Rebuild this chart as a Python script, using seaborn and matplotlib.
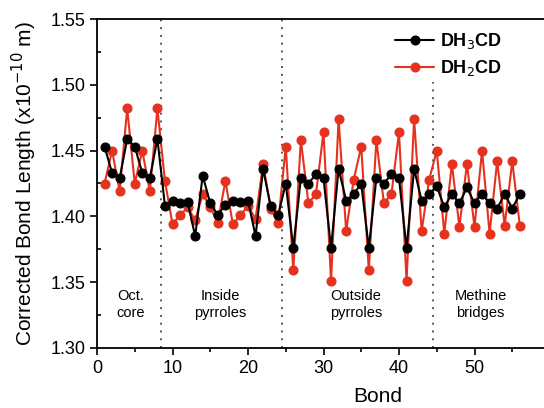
import numpy as np
import pandas as pd
import matplotlib
matplotlib.use('Agg')
import matplotlib.pyplot as plt
from matplotlib.ticker import MultipleLocator, FixedLocator
import seaborn as sns

# bond index and corrected bond lengths (x1e-10 m)
bonds = list(range(1, 57))
dh3cd = [1.453, 1.433, 1.429, 1.459, 1.453, 1.433, 1.429, 1.459,
         1.408, 1.412, 1.410, 1.411, 1.385, 1.431, 1.410, 1.401,
         1.409, 1.412, 1.411, 1.412, 1.385, 1.436, 1.408, 1.401,
         1.425, 1.376, 1.429, 1.425, 1.432, 1.429, 1.376, 1.436,
         1.412, 1.417, 1.425, 1.376, 1.429, 1.425, 1.432, 1.429,
         1.376, 1.436, 1.412, 1.417,
         1.423, 1.407, 1.417, 1.410, 1.422, 1.410, 1.417, 1.410,
         1.406, 1.417, 1.406, 1.417]
dh2cd = [1.425, 1.450, 1.419, 1.482, 1.425, 1.450, 1.419, 1.482,
         1.427, 1.394, 1.401, 1.407, 1.397, 1.417, 1.407, 1.395,
         1.427, 1.394, 1.401, 1.408, 1.398, 1.440, 1.406, 1.395,
         1.453, 1.359, 1.458, 1.410, 1.417, 1.464, 1.351, 1.474,
         1.389, 1.428, 1.453, 1.359, 1.458, 1.410, 1.417, 1.464,
         1.351, 1.474, 1.389, 1.428,
         1.450, 1.387, 1.440, 1.392, 1.440, 1.392, 1.450, 1.387,
         1.442, 1.393, 1.442, 1.393]

region_names = ['Oct.\ncore', 'Inside\npyrroles', 'Outside\npyrroles', 'Methine\nbridges']
region_centers = [4.4, 16.3, 34.3, 50.8]
dividers = [8.5, 24.5, 44.5]

df = pd.DataFrame({'Bond': bonds, 'DH3CD': dh3cd, 'DH2CD': dh2cd})

sns.set_style('ticks')
plt.rcParams['font.family'] = ['Liberation Sans', 'DejaVu Sans']
plt.rcParams['text.color'] = 'black'
plt.rcParams['axes.labelcolor'] = 'black'
plt.rcParams['xtick.color'] = 'black'
plt.rcParams['ytick.color'] = 'black'
plt.rcParams['axes.edgecolor'] = 'black'

fig = plt.figure(figsize=(5.44, 4.08), dpi=100)
# axes runs past the right edge, like the cropped original
ax = fig.add_axes([97 / 544, 60 / 408, 453 / 544, 329 / 408])

red = '#e5321f'
sns.lineplot(data=df, x='Bond', y='DH2CD', ax=ax, color=red, marker='o',
             markersize=6.5, markeredgecolor=red, linewidth=1.5,
             label='DH$_2$CD', zorder=3)
sns.lineplot(data=df, x='Bond', y='DH3CD', ax=ax, color='black', marker='o',
             markersize=6.5, markeredgecolor='black', linewidth=1.5,
             label='DH$_3$CD', zorder=4)

for i, d in enumerate(dividers):
    ymax = 0.81 if i == 2 else 1.0
    ax.axvline(d, ymin=0, ymax=ymax, color='#555555', linestyle=(0, (1, 3)),
               linewidth=1.4, zorder=1)

for name, xc in zip(region_names, region_centers):
    ax.text(xc, 1.333, name, ha='center', va='center', fontsize=10.5,
            linespacing=1.25)

ax.set_xlim(0, 60)
ax.set_ylim(1.30, 1.55)
ax.xaxis.set_major_locator(FixedLocator([0, 10, 20, 30, 40, 50]))
ax.xaxis.set_minor_locator(FixedLocator([5, 15, 25, 35, 45, 55]))
ax.yaxis.set_major_locator(MultipleLocator(0.05))
ax.yaxis.set_minor_locator(MultipleLocator(0.025))
ax.yaxis.set_major_formatter(plt.FuncFormatter(lambda v, p: f'{v:.2f}'))
ax.tick_params(axis='both', which='major', labelsize=13, length=5, width=1.2)
ax.tick_params(axis='x', which='minor', length=3, width=1.2)
ax.tick_params(axis='y', which='minor', direction='in', length=3, width=1.2)
for s in ax.spines.values():
    s.set_linewidth(1.3)

ax.set_xlabel('Bond', fontsize=15)
ax.xaxis.set_label_coords((378 - 97) / 453, -0.12)
ax.set_ylabel('Corrected Bond Length (x10$^{-10}$ m)', fontsize=15, labelpad=8)

h, l = ax.get_legend_handles_labels()
leg = ax.legend(h[::-1], l[::-1], loc='upper right', bbox_to_anchor=(518 / 544, 393 / 408),
                bbox_transform=fig.transFigure, frameon=False, fontsize=13,
                handlelength=2.2, handletextpad=0.3, labelspacing=0.4)
for t in leg.get_texts():
    t.set_fontweight('bold')

fig.savefig('out.png', dpi=100)
